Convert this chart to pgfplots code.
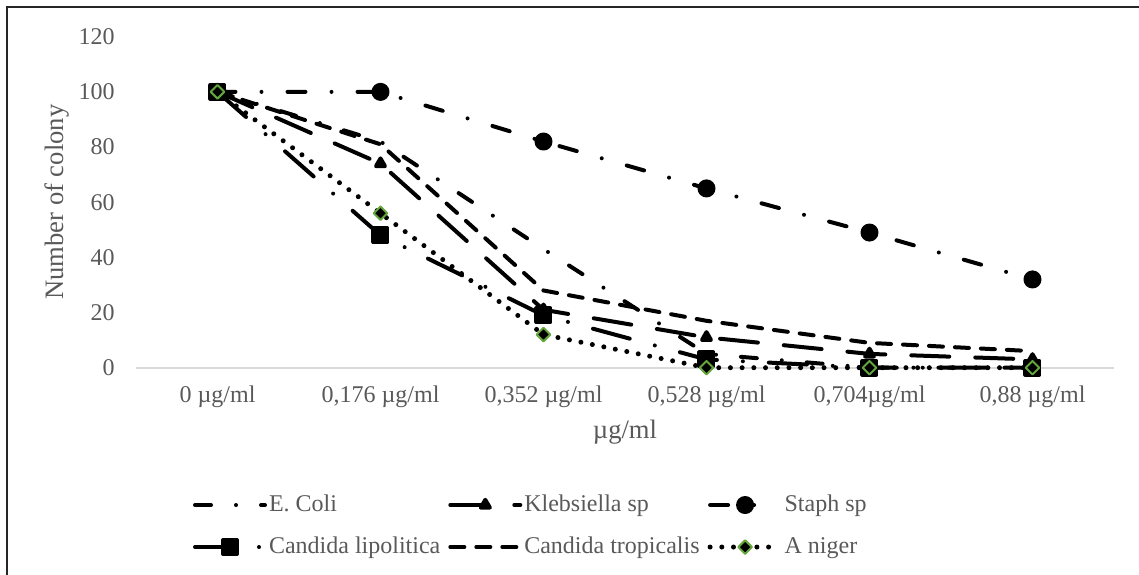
\documentclass[border=0pt]{standalone}
\usepackage{fontspec}
\setmainfont{Liberation Serif}
\usepackage{pgfplots}
\pgfplotsset{compat=1.18}
\definecolor{txt}{HTML}{595959}
\definecolor{agreen}{RGB}{100,165,60}
\definecolor{axgray}{HTML}{D9D9D9}
\begin{document}
\begin{tikzpicture}
\useasboundingbox (-68pt,-103.15pt) rectangle (501.5pt,183.85pt);
\draw[black!85, line width=1pt] (-64.5pt,-130pt) rectangle (530pt,180.2pt);
\begin{axis}[
  at={(0pt,0pt)}, anchor=south west,
  scale only axis, width=489pt, height=165.5pt,
  xmin=-0.5, xmax=5.5, ymin=0, ymax=120,
  clip=false,
  xtick={0,1,2,3,4,5},
  xticklabels={{0 µg/ml},{0,176 µg/ml},{0,352 µg/ml},{0,528 µg/ml},{0,704µg/ml},{0,88 µg/ml}},
  ytick={0,20,40,60,80,100,120},
  axis x line*=bottom, axis y line*=left,
  x axis line style={-, draw=axgray, line width=0.8pt},
  y axis line style={draw=none},
  major tick length=0pt, tick style={draw=none},
  /pgf/number format/assume math mode=true,
  tick label style={font=\fontsize{12}{14}\selectfont, text=txt},
  y tick label style={anchor=east, inner sep=0pt, xshift=-10.5pt},
  x tick label style={anchor=base, inner sep=0pt, yshift=-17.4pt},
  xlabel={µg/ml}, ylabel={Number of colony},
  label style={font=\fontsize{13.3}{16}\selectfont, text=txt, inner sep=0pt},
  xlabel style={at={(axis description cs:0.5,-0.2127)}, anchor=base},
  ylabel style={at={(axis description cs:-0.0746,0.5)}, anchor=base},
  legend columns=3,
  legend cell align=left,
  legend style={draw=none, fill=none, inner sep=0pt, outer sep=0pt,
    at={(axis description cs:0.0583,-0.3786)}, anchor=north west,
    font=\fontsize{12}{14}\selectfont, text=txt,
    row sep=9pt,
    nodes={inner sep=0pt, text height=9pt, text depth=3pt},
    /tikz/every odd column/.append style={column sep=1pt},
    /tikz/every even column/.append style={column sep=4pt}},
  legend image code/.code={\draw[mark repeat=2,mark phase=2,#1] plot coordinates {(0pt,0pt) (17.5pt,0pt) (35pt,0pt)};},
  every axis plot/.append style={black, line width=2pt, line cap=round, line join=round},
]
\addplot[dash pattern=on 8pt off 12.5pt on 0pt off 12.5pt, mark=none]
  coordinates {(0,100) (1,82) (2,43) (3,5) (4,0) (5,0)};
\addlegendentry{E. Coli}
\addplot[dash pattern=on 19pt off 13pt, mark=triangle*, mark size=2.6pt, mark options={solid, fill=black}]
  coordinates {(0,100) (1,74) (2,21) (3,11) (4,5) (5,3)};
\addlegendentry{Klebsiella sp}
\addplot[dash pattern=on 9pt off 13pt on 0pt off 13pt, mark=*, mark size=3.5pt, mark options={solid, fill=black}]
  coordinates {(0,100) (1,100) (2,82) (3,65) (4,49) (5,32)};
\addlegendentry{Staph sp}
\addplot[dash pattern=on 19pt off 13pt on 0pt off 13pt, mark=square*, mark size=3.5pt, mark options={solid, fill=black}]
  coordinates {(0,100) (1,48) (2,19) (3,3) (4,0) (5,0)};
\addlegendentry{Candida lipolitica}
\addplot[dash pattern=on 7pt off 6pt, mark=none]
  coordinates {(0,100) (1,81) (2,28) (3,17) (4,9) (5,6)};
\addlegendentry{Candida tropicalis}
\addplot[line width=2.5pt, dash pattern=on 0pt off 5.85pt, mark=square*, mark size=2.4pt, mark options={solid, rotate=45, fill=black, draw=agreen, line width=1pt}]
  coordinates {(0,100) (1,56) (2,12) (3,0) (4,0) (5,0)};
\addlegendentry{A niger}
\end{axis}
\end{tikzpicture}
\end{document}
